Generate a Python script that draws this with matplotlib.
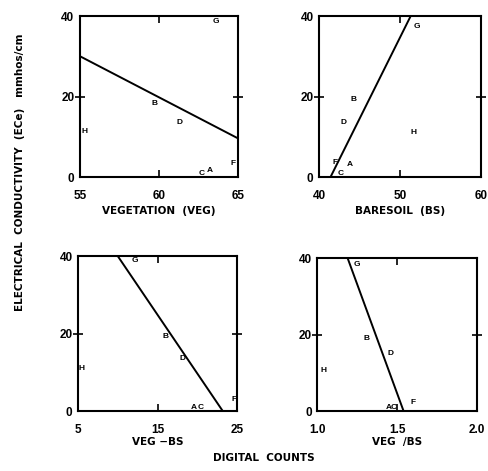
"""
Electrical conductivity vs digital counts, four panels with site letters.
"""
import matplotlib
matplotlib.use('Agg')
import matplotlib.pyplot as plt

plt.rcParams['font.family'] = ['Liberation Sans', 'DejaVu Sans']
plt.rcParams['font.weight'] = 'bold'

# site letters
sites_veg = ['G', 'B', 'D', 'H', 'C', 'A', 'F']
veg_x = [63.6, 59.7, 61.3, 55.3, 62.7, 63.2, 64.7]
veg_y = [38.6, 18.3, 13.6, 11.2, 0.8, 1.7, 3.5]
veg_line_x = [55, 65]
veg_line_y = [30.0, 9.6]

sites_bs = ['G', 'B', 'D', 'H', 'F', 'A', 'C']
bs_x = [52.1, 44.2, 43.0, 51.6, 41.9, 43.8, 42.6]
bs_y = [37.5, 19.3, 13.6, 11.0, 3.6, 3.1, 0.9]
bs_line_x = [41.4, 51.3]
bs_line_y = [0, 40]

sites_diff = ['G', 'B', 'D', 'H', 'A', 'C', 'F']
diff_x = [12.2, 16.0, 18.1, 5.4, 19.5, 20.4, 24.6]
diff_y = [39.0, 19.4, 13.6, 10.9, 0.9, 0.9, 3.0]
diff_line_x = [10.0, 23.2]
diff_line_y = [40, 0]

sites_ratio = ['G', 'B', 'D', 'H', 'A', 'C', 'F']
ratio_x = [1.25, 1.31, 1.46, 1.04, 1.45, 1.48, 1.60]
ratio_y = [38.3, 19.0, 15.0, 10.7, 0.9, 0.9, 2.2]
ratio_line_x = [1.19, 1.54]
ratio_line_y = [40, 0]

yticks = [0, 20, 40]


def draw_panel(ax, sites, xs, ys, lx, ly, xticks, xticklabels, xlabel, label_y):
    ax.plot(lx, ly, color='black', linewidth=1.4)
    for s, x, y in zip(sites, xs, ys):
        ax.text(x, y, s, fontsize=6, fontweight='bold', ha='center', va='center')
    ax.set_xlim(xticks[0], xticks[-1])
    ax.set_ylim(0, 40)
    ax.set_xticks(xticks)
    ax.set_xticklabels(xticklabels)
    ax.set_yticks(yticks)
    # only the middle ticks get a visible mark
    ax.xaxis.remove_overlapping_locs = False
    ax.yaxis.remove_overlapping_locs = False
    ax.set_xticks([xticks[1]], minor=True)
    ax.set_yticks([yticks[1]], minor=True)
    ax.tick_params(axis='x', which='major', length=0, pad=9, labelsize=8.5)
    ax.tick_params(axis='y', which='major', length=0, pad=4, labelsize=8.5)
    ax.tick_params(axis='x', which='minor', direction='in', top=True, length=5, width=1.2)
    ax.tick_params(axis='y', which='minor', direction='inout', right=True, length=7, width=1.2)
    for sp in ax.spines.values():
        sp.set_linewidth(1.5)
    ax.text(0.5, label_y, xlabel, transform=ax.transAxes, ha='center', va='center',
            fontsize=7.5, fontweight='bold', family='DejaVu Sans')


fig = plt.figure(figsize=(4.88, 4.71), dpi=100)

ax1 = fig.add_axes([0.164, 0.624, 0.324, 0.342])
draw_panel(ax1, sites_veg, veg_x, veg_y, veg_line_x, veg_line_y,
           [55, 60, 65], ['55', '60', '65'], 'VEGETATION  (VEG)', -0.21)

ax2 = fig.add_axes([0.654, 0.624, 0.332, 0.342])
draw_panel(ax2, sites_bs, bs_x, bs_y, bs_line_x, bs_line_y,
           [40, 50, 60], ['40', '50', '60'], 'BARESOIL  (BS)', -0.21)

ax3 = fig.add_axes([0.160, 0.127, 0.326, 0.329])
draw_panel(ax3, sites_diff, diff_x, diff_y, diff_line_x, diff_line_y,
           [5, 15, 25], ['5', '15', '25'], 'VEG \u2212BS', -0.20)

ax4 = fig.add_axes([0.650, 0.127, 0.328, 0.325])
draw_panel(ax4, sites_ratio, ratio_x, ratio_y, ratio_line_x, ratio_line_y,
           [1.0, 1.5, 2.0], ['1.0', '1.5', '2.0'], 'VEG  /BS', -0.20)

fig.text(0.041, 0.635, 'ELECTRICAL  CONDUCTIVITY  (ECe)   mmhos/cm', rotation=90,
         ha='center', va='center', fontsize=7.5, fontweight='bold', family='DejaVu Sans')
fig.text(0.541, 0.028, 'DIGITAL  COUNTS', ha='center', va='center',
         fontsize=7.5, fontweight='bold', family='DejaVu Sans')

plt.savefig('out.png', dpi=100)
plt.close()
